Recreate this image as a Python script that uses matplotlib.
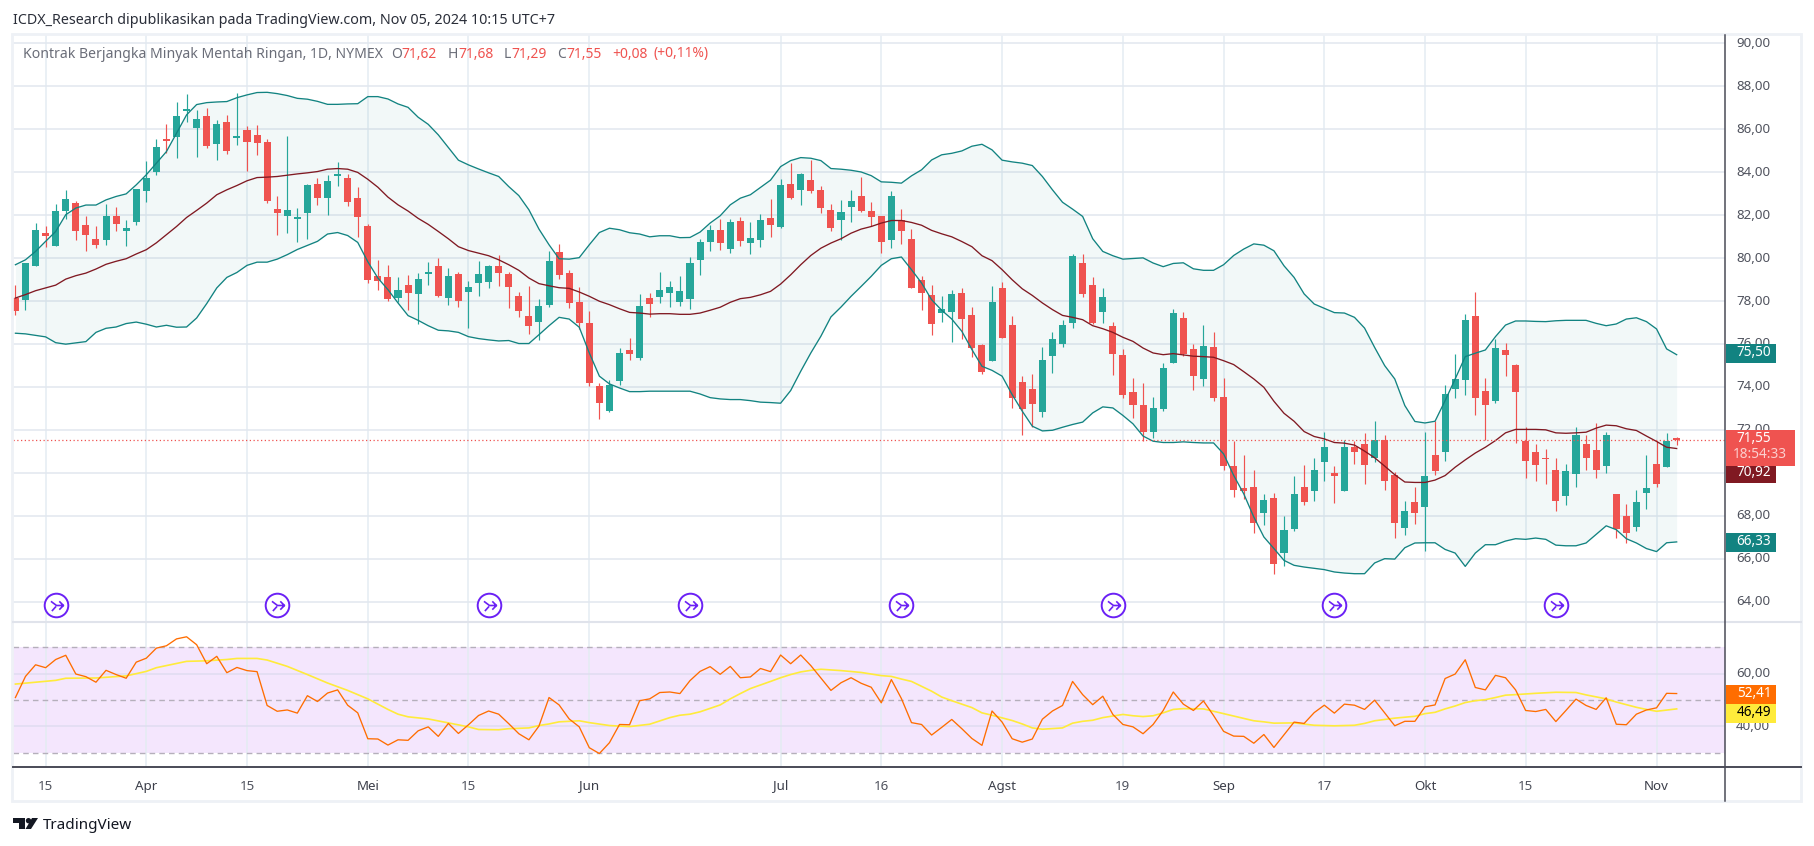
import numpy as np
import matplotlib
matplotlib.use('Agg')
import matplotlib.pyplot as plt
from matplotlib.path import Path
from matplotlib.patches import Polygon, Circle, Rectangle
from matplotlib.transforms import ScaledTranslation

plt.rcParams['font.family'] = ['Noto Sans', 'DejaVu Sans']

# Daily candles
opens = [78.15,78.06,79.64,81.18,80.57,82.20,82.57,81.55,80.90,80.85,
         81.97,81.27,81.69,83.13,84.02,85.50,85.64,86.85,86.06,86.62,
         85.32,86.34,85.60,85.97,85.74,85.41,82.30,81.97,81.83,82.11,
         83.46,82.81,83.83,83.74,82.81,81.50,79.18,79.13,78.15,78.76,
         78.34,79.27,79.64,78.15,79.27,78.43,78.85,78.90,79.64,79.27,
         78.25,77.32,77.04,77.83,80.30,79.32,77.97,76.99,74.05,72.90,
         74.29,75.73,75.36,78.15,78.20,78.39,77.97,78.11,79.92,80.76,
         81.32,80.43,81.74,80.71,80.85,81.88,81.46,83.46,83.18,83.64,
         83.18,82.25,81.78,82.39,82.90,82.20,81.97,80.85,81.78,80.90,
         78.99,78.29,77.46,77.50,78.39,77.36,75.97,75.22,78.62,76.90,
         74.25,73.92,72.85,75.46,76.01,76.99,79.78,78.76,77.50,76.85,
         75.50,73.78,73.18,71.92,72.95,75.09,77.22,75.78,74.39,75.88,
         73.55,70.30,69.27,69.32,68.11,68.81,66.25,67.36,69.32,69.13,
         70.48,69.97,69.13,71.18,71.32,70.71,71.55,69.88,67.41,68.62,
         68.39,70.81,70.95,73.92,74.34,77.32,73.83,73.36,75.74,75.04,
         71.50,70.99,70.67,70.15,68.90,69.92,71.36,71.04,70.30,68.99,
         68.01,67.46,69.08,70.43,70.25,71.62]
highs = [78.76,79.78,81.63,81.50,82.53,83.18,82.67,81.97,81.50,82.53,
         82.39,81.78,83.22,84.53,85.55,86.25,87.27,87.64,86.90,86.99,
         86.43,86.67,87.69,86.16,86.20,85.54,82.90,85.69,82.34,83.46,
         83.74,83.88,84.48,83.92,83.31,81.60,79.92,79.69,79.13,79.23,
         79.32,79.83,80.02,79.55,79.37,78.95,79.88,79.69,80.16,79.37,
         78.43,78.71,78.11,80.34,80.67,79.46,78.67,77.55,74.20,74.34,
         75.83,76.29,78.34,78.39,79.36,78.95,79.18,80.06,80.90,81.55,
         81.83,81.83,81.92,81.69,82.06,82.76,83.69,84.43,83.97,84.57,
         83.36,82.53,82.71,83.18,83.78,82.62,81.97,83.13,82.29,81.36,
         79.18,78.76,78.25,78.53,78.62,77.74,76.01,78.71,78.90,77.32,
         74.53,74.62,75.87,76.57,77.13,80.20,80.20,79.13,78.62,77.04,
         75.78,74.43,74.20,73.55,75.13,77.64,77.50,76.01,76.90,76.57,
         74.43,71.46,70.81,70.15,68.99,69.08,67.97,69.83,70.34,70.71,
         71.92,70.30,71.55,71.46,71.83,72.39,71.74,70.02,68.67,69.32,
         71.92,72.43,74.11,75.55,77.41,78.43,74.43,76.25,76.06,75.08,
         72.11,71.32,71.13,70.67,70.39,72.11,71.74,72.34,71.92,68.99,
         68.53,69.18,70.81,71.50,71.83,71.68]
lows = [77.37,77.60,79.61,80.53,80.57,81.83,80.85,80.34,80.48,80.62,
        81.27,80.57,81.55,82.62,83.88,84.90,84.67,86.34,84.71,85.13,
        84.57,84.85,85.27,84.06,84.81,82.57,81.09,81.18,80.76,80.90,
        82.48,82.02,83.36,82.43,80.99,78.85,78.53,78.02,77.97,77.60,
        76.95,78.76,78.20,77.83,77.74,76.76,78.25,78.62,78.71,77.69,
        77.27,76.48,76.20,77.74,79.04,77.69,76.71,74.03,72.50,72.85,
        74.11,75.27,75.27,77.27,77.92,77.74,77.78,77.64,79.22,80.34,
        80.39,80.25,80.57,80.20,80.53,80.99,81.41,82.76,82.48,83.04,
        82.11,81.27,80.85,81.69,82.15,81.50,80.25,80.48,80.67,78.62,
        77.60,76.43,77.04,76.11,76.25,75.41,74.62,75.22,76.29,73.04,
        71.74,72.15,72.62,74.67,75.87,76.76,78.20,76.95,76.99,74.57,
        73.50,72.57,71.50,71.64,72.90,75.09,75.46,73.87,74.06,73.36,
        70.11,68.85,68.76,67.18,67.55,65.27,65.64,67.27,68.48,68.67,
        69.60,68.57,69.13,70.39,69.50,70.48,69.22,66.95,67.08,67.60,
        66.34,69.88,70.53,73.46,73.64,72.71,71.55,73.27,74.53,71.41,
        69.74,69.64,69.46,68.20,68.48,69.36,70.15,69.78,69.97,66.95,
        66.71,67.27,68.29,69.32,70.25,71.29]
closes = [77.55,79.78,81.32,81.04,82.20,82.76,81.27,81.09,80.62,81.97,
          81.60,81.41,83.22,83.74,85.18,85.46,86.62,86.95,86.48,85.22,
          86.25,84.99,85.69,85.41,85.37,82.67,82.11,82.25,81.92,83.41,
          82.81,83.60,83.88,82.62,81.92,78.99,78.95,78.11,78.53,78.39,
          79.04,79.32,78.25,79.18,78.02,78.67,79.27,79.64,79.32,78.67,
          77.55,76.85,77.78,79.88,79.23,77.92,76.99,74.20,73.27,74.11,
          75.60,75.55,77.78,77.88,78.53,78.67,78.48,79.78,80.76,81.32,
          80.71,81.69,80.81,80.94,81.78,81.55,83.41,82.81,83.92,83.13,
          82.34,81.41,82.15,82.67,82.20,81.92,80.76,82.90,81.27,78.62,
          78.39,76.95,77.64,78.34,77.18,75.83,74.71,77.97,76.29,73.50,
          72.95,73.22,75.27,76.25,76.90,80.11,78.34,76.99,78.20,75.55,
          73.64,73.18,71.92,73.04,74.90,77.46,75.55,74.53,75.92,73.50,
          70.30,69.18,69.13,67.64,68.71,65.74,67.32,68.99,68.62,70.11,
          71.18,69.83,71.18,70.95,70.34,71.55,69.64,67.64,68.20,68.15,
          69.83,70.06,73.69,74.39,77.13,73.50,73.18,75.83,75.50,73.78,
          70.53,70.34,70.62,68.67,70.06,71.74,70.71,70.15,71.78,67.36,
          67.18,68.62,69.27,69.46,71.46,71.55]

# Bollinger bands
bb_upper = [79.69,79.92,80.31,80.78,81.24,82.02,82.33,82.47,82.47,82.71,
            82.87,82.99,83.41,83.88,84.42,84.96,85.81,86.67,87.15,87.24,
            87.27,87.29,87.47,87.60,87.71,87.72,87.66,87.57,87.44,87.40,
            87.30,87.16,87.16,87.18,87.19,87.52,87.52,87.41,87.18,87.02,
            86.56,86.23,85.74,85.15,84.56,84.34,84.15,83.97,83.80,83.33,
            82.91,82.25,81.35,80.62,79.97,79.95,80.02,80.62,81.19,81.39,
            81.32,81.18,81.12,80.99,81.04,81.04,80.95,80.96,81.21,81.63,
            81.97,82.48,82.79,82.95,83.29,83.63,84.26,84.54,84.68,84.65,
            84.54,84.17,84.14,84.09,84.01,83.84,83.55,83.53,83.49,83.83,
            84.11,84.57,84.81,84.88,84.99,85.21,85.30,85.04,84.56,84.48,
            84.42,84.31,83.80,83.18,82.60,82.28,81.94,80.90,80.31,80.11,
            79.95,79.98,80.01,79.77,79.60,79.75,79.78,79.50,79.43,79.43,
            79.69,80.12,80.42,80.66,80.60,80.34,79.64,79.10,78.33,77.86,
            77.66,77.46,77.44,77.24,76.74,75.84,74.99,74.37,73.13,72.39,
            72.32,72.40,73.36,74.37,75.41,75.57,75.72,76.34,76.88,77.07,
            77.07,77.05,77.04,77.08,77.10,77.10,77.10,76.96,76.85,76.93,
            77.16,77.22,77.04,76.70,75.77,75.50]
bb_mid = [78.14,78.30,78.48,78.61,78.74,79.02,79.18,79.30,79.49,79.71,
          79.85,79.97,80.19,80.39,80.71,81.09,81.47,81.89,82.22,82.56,
          82.95,83.18,83.38,83.60,83.75,83.77,83.80,83.86,83.92,83.97,
          84.03,84.14,84.17,84.14,83.99,83.67,83.30,82.84,82.48,82.19,
          81.85,81.57,81.24,80.90,80.53,80.35,80.23,80.11,79.92,79.69,
          79.43,79.07,78.81,78.71,78.62,78.59,78.42,78.22,77.99,77.83,
          77.64,77.47,77.44,77.39,77.41,77.41,77.38,77.38,77.44,77.57,
          77.71,77.94,78.11,78.17,78.29,78.45,78.79,79.22,79.69,80.12,
          80.46,80.70,80.90,81.16,81.35,81.47,81.63,81.75,81.75,81.66,
          81.53,81.29,81.13,80.99,80.77,80.53,80.11,79.88,79.46,78.99,
          78.57,78.26,77.91,77.60,77.33,77.24,77.13,76.85,76.71,76.54,
          76.31,76.12,75.81,75.58,75.50,75.55,75.49,75.43,75.41,75.38,
          75.22,75.04,74.71,74.37,73.98,73.33,72.77,72.40,71.92,71.69,
          71.58,71.41,71.38,71.29,71.01,70.70,70.31,69.91,69.57,69.55,
          69.55,69.66,69.87,70.26,70.60,70.92,71.19,71.50,71.86,72.02,
          72.02,72.02,72.00,71.86,71.84,71.86,71.89,72.08,72.22,72.19,
          72.05,71.97,71.71,71.46,71.19,71.13]
bb_lower = [76.50,76.47,76.40,76.33,76.06,75.99,76.05,76.11,76.54,76.73,
            76.79,76.95,77.02,76.92,76.79,76.87,76.78,76.79,77.21,77.88,
            78.61,79.10,79.33,79.66,79.81,79.81,79.95,80.16,80.40,80.59,
            80.78,81.12,81.19,81.05,80.73,79.83,79.07,78.53,77.91,77.32,
            77.10,76.85,76.64,76.61,76.54,76.34,76.25,76.19,76.14,76.16,
            76.02,76.02,76.43,76.85,77.24,77.16,76.78,75.58,74.50,74.14,
            73.95,73.78,73.78,73.80,73.80,73.80,73.80,73.80,73.67,73.50,
            73.44,73.41,73.41,73.36,73.29,73.27,73.24,73.83,74.73,75.58,
            76.36,77.26,77.72,78.22,78.68,79.15,79.66,79.97,80.05,79.46,
            78.84,78.06,77.57,77.16,76.59,75.74,74.96,74.77,74.50,73.64,
            72.87,72.17,71.95,71.98,72.12,72.25,72.36,72.79,73.07,73.02,
            72.67,72.28,71.71,71.47,71.41,71.41,71.44,71.41,71.39,71.39,
            70.88,69.88,69.02,67.94,67.01,66.47,65.92,65.69,65.61,65.55,
            65.49,65.38,65.33,65.30,65.30,65.80,66.00,65.98,66.51,66.73,
            66.74,66.74,66.43,66.26,65.64,66.26,66.65,66.65,66.82,66.93,
            66.90,66.96,66.90,66.63,66.60,66.60,66.73,67.13,67.53,67.35,
            66.93,66.73,66.47,66.33,66.74,66.78]

# RSI and its moving average (the MA only at the candles where it bends)
rsi = [50.9,58.9,63.3,62.2,65.3,66.9,59.8,58.8,56.7,61.2,
       59.6,58.2,64.3,65.8,69.6,70.5,73.1,73.9,70.9,63.7,
       66.5,60.3,62.3,61.1,60.7,47.9,45.7,46.2,45.0,51.6,
       49.4,52.6,53.8,48.0,45.1,35.3,35.2,32.9,34.9,34.7,
       38.3,39.8,36.2,41.1,37.3,40.6,44.1,45.8,44.6,41.0,
       37.2,34.9,40.1,50.9,48.1,42.8,39.8,31.9,29.7,33.8,
       40.7,40.6,49.7,50.4,52.8,53.0,52.4,57.3,60.8,62.6,
       59.7,62.7,58.4,58.7,61.9,60.7,67.0,63.7,67.0,63.0,
       58.3,53.6,56.5,58.4,56.3,54.8,48.9,57.7,50.5,41.4,
       40.7,36.7,39.6,42.6,39.1,35.4,32.8,45.8,41.6,35.3,
       34.0,35.2,42.7,45.8,47.9,57.0,52.0,48.2,51.4,44.5,
       40.7,39.8,37.2,40.7,46.0,53.0,48.4,46.0,49.6,44.1,
       38.1,36.3,36.2,33.6,36.9,32.0,36.8,41.6,41.1,45.2,
       48.0,45.0,48.4,48.0,46.4,49.9,45.1,40.2,41.9,41.9,
       47.4,48.1,58.1,59.8,65.2,54.7,53.8,59.3,58.4,53.8,
       46.0,45.6,46.4,41.8,46.0,50.3,47.9,46.4,50.8,40.8,
       40.6,44.6,46.2,47.0,52.5,52.41]
rsi_ma_idx = [0,4,5,8,11,13,14,17,19,21,22,24,25,27,29,31,33,35,37,38,39,41,43,45,46,48,49,
              51,52,53,54,56,57,59,61,63,65,66,67,68,70,71,72,73,75,76,77,78,79,80,82,84,86,87,88,89,
              91,92,93,95,96,97,99,100,101,102,104,105,106,107,108,110,111,112,113,114,115,116,118,119,120,
              122,123,124,125,127,129,131,133,134,135,137,139,140,141,142,143,144,145,146,147,148,149,
              151,153,155,156,158,159,161,162,163,165]
rsi_ma = [56.0,57.4,58.2,58.3,59.1,60.8,62.2,64.6,64.8,65.3,65.7,65.7,65.1,62.7,59.6,56.4,53.6,50.4,46.4,44.6,43.6,42.8,41.3,39.8,38.8,38.7,39.1,
          39.4,40.3,40.9,41.7,42.1,41.4,40.3,39.9,40.8,43.3,44.2,44.6,45.5,48.1,50.4,52.4,54.3,57.0,58.4,59.6,60.6,61.2,61.6,61.1,60.4,59.2,58.9,57.9,57.0,
          53.3,51.1,49.7,47.1,45.1,44.2,42.2,40.9,39.4,38.9,39.4,41.2,41.9,42.3,43.3,44.5,44.0,43.7,44.0,45.1,46.4,46.7,46.6,45.7,44.8,
          43.0,42.1,41.7,41.2,41.3,40.4,40.2,40.4,41.1,42.1,43.1,43.8,44.8,45.3,46.6,47.7,49.0,49.7,50.1,50.9,51.8,52.0,
          52.5,52.9,52.8,51.9,50.4,49.2,47.2,46.4,45.7,46.6]

# Time axis and the other small things
tick_idx = [3,13,23,35,45,57,76,86,98,110,120,130,140,150,163]
tick_labels = ['15','Apr','15','Mei','15','Jun','Jul','16','Agst','19','Sep','17','Okt','15','Nov']
months = ['Apr','Mei','Jun','Jul','Agst','Sep','Okt','Nov']
event_idx = [4,26,47,67,88,109,131,153]
event_price = 63.84
last_price = 71.53

W, H = 1814, 846
RED = '#ef5350'
GREEN = '#26a69a'
TEAL = '#128381'
BROWN = '#801922'
GRID = '#e4ecf2'
HGRID = '#e2e7ef'
TXT = '#50535e'
PURPLE = '#6b21f5'


def rect(x0, y0, x1, y1):
    # axes position from pixel corners, y counted from the top
    return [x0 / W, 1 - y1 / H, (x1 - x0) / W, (y1 - y0) / H]


def nice(v):
    return f'{v:.2f}'.replace('.', ',')


fig = plt.figure(figsize=(W / 100, H / 100), dpi=100, facecolor='white')
ax = fig.add_axes(rect(13, 35, 1725, 622))
ax2 = fig.add_axes(rect(13, 622, 1725, 767), sharex=ax)
x = np.arange(len(closes))

# main pane
o, h, l, c = map(np.array, (opens, highs, lows, closes))
cols = [GREEN if cc >= oo else RED for oo, cc in zip(o, c)]
ax.fill_between(x, bb_upper, bb_lower, color=TEAL, alpha=0.05, lw=0, zorder=1)
ax.vlines(x, l, h, colors=cols, lw=0.85, zorder=2)
ax.bar(x, np.maximum(np.abs(c - o), 0.07), bottom=np.minimum(o, c), width=0.7,
       color=cols, lw=0, zorder=3)
ax.plot(x, bb_upper, color=TEAL, lw=0.95, zorder=4)
ax.plot(x, bb_lower, color=TEAL, lw=0.95, zorder=4)
ax.plot(x, bb_mid, color=BROWN, lw=0.95, zorder=4)
ax.axhline(last_price, color=RED, lw=0.9, ls=(0, (1, 2)), zorder=4)

ax.set_xlim(-0.24, 169.8)
ax.set_ylim(63.05, 90.39)
ax.set_yticks(np.arange(64, 91, 2))
ax.set_yticklabels([nice(v) for v in np.arange(64, 91, 2)])
ax.yaxis.tick_right()
ax.tick_params(axis='y', length=0, pad=8, labelsize=9.6, labelcolor=TXT)
ax.tick_params(axis='x', length=0, labelbottom=False)
ax.set_xticks(tick_idx)
ax.grid(axis='y', color=HGRID, lw=1.1)
ax.grid(axis='x', color=GRID, lw=1.1)
ax.set_axisbelow(True)

# event badges
ax.plot(event_idx, [event_price] * len(event_idx), 'o', ms=17, mfc='white', mec=PURPLE, mew=1.4, zorder=5)
glyph = Path([(-0.6, 0.45), (0.0, 0.0), (0.75, 0.0), (0.3, 0.45), (0.75, 0.0), (0.3, -0.45),
              (-0.5, -0.6), (-0.05, -0.1)],
             [Path.MOVETO, Path.LINETO, Path.LINETO, Path.MOVETO, Path.LINETO, Path.LINETO,
              Path.MOVETO, Path.LINETO])
ax.plot(event_idx, [event_price] * len(event_idx), ls='', marker=glyph, ms=10, mfc='none', mec=PURPLE, mew=1.2, zorder=6)

# RSI pane
ax2.axhspan(30, 70, color='#f4e6fd', lw=0, zorder=0.5)
ax2.plot(x, rsi, color='#ff6d00', lw=0.95, zorder=4)
ax2.plot(rsi_ma_idx, rsi_ma, color='#ffeb3b', lw=1.2, zorder=3)
for level in (30, 50, 70):
    ax2.axhline(level, color='#b5afbb', lw=1.0, ls=(0, (4, 3)), zorder=2)
ax2.set_ylim(24.6, 79.5)
ax2.set_yticks([40, 60])
ax2.set_yticklabels(['40,00', '60,00'])
ax2.yaxis.tick_right()
ax2.tick_params(axis='y', length=0, pad=8, labelsize=9.6, labelcolor=TXT)
ax2.set_xticks(tick_idx)
ax2.set_xticklabels(tick_labels)
ax2.tick_params(axis='x', length=0, pad=9, labelsize=9.6, labelcolor=TXT)
for t in ax2.get_xticklabels():
    if t.get_text() in months:
        t.set_fontweight('bold')
        t.set_color('#3c3f4a')
ax2.grid(axis='y', color='#e0dcf0', lw=1.1, zorder=1)
ax2.grid(axis='x', color=GRID, lw=1.1, zorder=1)
ax2.set_axisbelow(True)

# price labels sit a little high in the original
up = ScaledTranslation(0, 1.5 / 100, fig.dpi_scale_trans)
for a in (ax, ax2):
    for t in a.get_yticklabels():
        t.set_transform(t.get_transform() + up)
    for s in a.spines.values():
        s.set_visible(False)

# overlay in plain pixels: frame, price tags, header, logo
ov = fig.add_axes([0, 0, 1, 1], zorder=10)
ov.set_xlim(0, W)
ov.set_ylim(H, 0)
ov.axis('off')
ov.patch.set_alpha(0)

ov.add_patch(Rectangle((12, 34), 1789, 767, fill=False, ec='#eef1f6', lw=2))
ov.plot([13, 1801], [622, 622], color='#e0e3eb', lw=1.5)
ov.plot([13, 1801], [767, 767], color='#4a4b57', lw=1.4)
ov.plot([1725, 1725], [35, 801], color='#4a4b57', lw=1.1)


def tag(y0, y1, col, txt, tcol='white', x1=1776):
    ov.add_patch(Rectangle((1725.5, y0), x1 - 1725.5, y1 - y0, color=col, lw=0))
    ov.text(1754, (y0 + y1) / 2 - 1, txt, color=tcol, fontsize=9.8, ha='center', va='center')


tag(344, 363, '#128381', '75,50')
tag(533, 552, '#128381', '66,33')
tag(465, 483, '#801922', '70,92')
ov.add_patch(Rectangle((1725.5, 430), 69.5, 36, color=RED, lw=0))
ov.text(1754, 438, '71,55', color='white', fontsize=9.8, ha='center', va='center')
ov.text(1760, 454.5, '18:54:33', color='#fbd0cf', fontsize=9.8, ha='center', va='center')
tag(685, 704, '#ff6d00', '52,41')
tag(704, 723, '#ffeb3b', '46,49', tcol='black')

ov.text(13, 20, 'ICDX_Research dipublikasikan pada TradingView.com, Nov 05, 2024 10:15 UTC+7',
        color='#2a2e39', fontsize=10.3, va='center')
ov.text(23, 54, 'Kontrak Berjangka Minyak Mentah Ringan, 1D, NYMEX', color='#6a6d78', fontsize=10.1, va='center')
header = [(391, 'O', '#6a6d78'), (401, '71,62', RED), (448, 'H', '#6a6d78'), (458, '71,68', RED),
          (504, 'L', '#6a6d78'), (511, '71,29', RED), (557, 'C', '#6a6d78'), (566, '71,55', RED),
          (612, '+0,08', RED), (654, '(+0,11%)', RED)]
for hx, s, col in header:
    ov.text(hx, 54, s, color=col, fontsize=10.0, va='center')

# TradingView mark
ov.add_patch(Polygon([(13, 818), (25, 818), (25, 829), (19, 829), (19, 823), (13, 823)], color='#131722', lw=0))
ov.add_patch(Circle((28.5, 820.7), 2.7, color='#131722', lw=0))
ov.add_patch(Polygon([(32, 818), (38, 818), (31, 829), (25.5, 829)], color='#131722', lw=0))
ov.text(43, 825.5, 'TradingView', color='#131722', fontsize=11, va='center')

fig.savefig('out.png', dpi=100)
